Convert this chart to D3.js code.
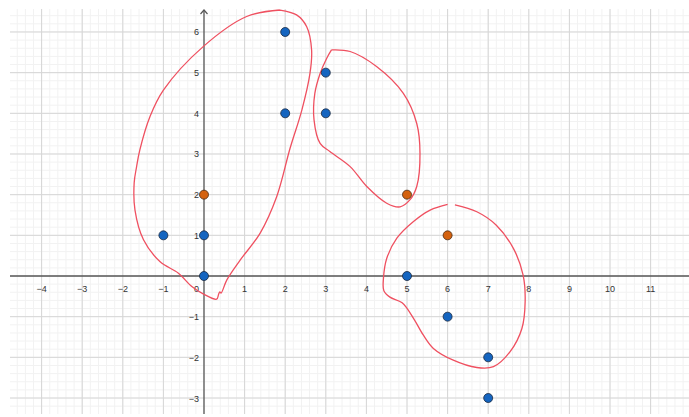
<!DOCTYPE html>
<html>
<head>
<meta charset="utf-8">
<script src="https://cdn.jsdelivr.net/npm/d3@7"></script>
<style>
  body { margin: 0; background: #fff; }
  svg { display: block; }
</style>
</head>
<body>
<svg width="689" height="417"></svg>
<script>
// points
const bluePoints = [[2, 6], [2, 4], [3, 5], [3, 4], [0, 1], [0, 0], [-1, 1], [5, 0], [6, -1], [7, -2], [7, -3]];
const orangePoints = [[0, 2], [5, 2], [6, 1]];

const xTicks = [-4, -3, -2, -1, 1, 2, 3, 4, 5, 6, 7, 8, 9, 10, 11];
const yTicks = [-3, -2, -1, 1, 2, 3, 4, 5, 6];

// hand drawn loops (traced, in graph units)
const loopLeft = [
  [1.87, 6.54], [1.05, 6.38], [-0.02, 5.64], [-1.0, 4.57], [-1.33, 3.92], [-1.58, 3.1],
  [-1.66, 2.69], [-1.72, 2.29], [-1.70, 1.62], [-1.49, 0.89], [-1.08, 0.35], [-0.63, 0.07],
  [-0.30, -0.26], [-0.02, -0.44], [0.31, -0.57], [0.36, -0.45], [0.39, -0.39], [0.42, -0.42],
  [0.56, -0.10], [0.89, 0.39], [1.38, 1.05], [1.79, 1.95], [2.12, 3.14], [2.41, 4.08],
  [2.61, 4.98], [2.65, 5.56], [2.53, 6.13], [2.28, 6.42], [1.87, 6.54]
];
const loopMiddle = [
  [3.14, 5.56], [3.60, 5.52], [4.25, 5.15], [4.91, 4.49], [5.24, 3.75], [5.32, 3.02],
  [5.24, 2.2], [5.07, 1.87], [4.83, 1.70], [4.50, 1.79], [4.01, 2.2], [3.60, 2.69],
  [3.10, 3.06], [2.86, 3.26], [2.71, 3.84], [2.73, 4.49], [2.86, 4.98], [3.02, 5.35], [3.14, 5.56]
];
const loopRight = [
  [6.18, 1.75], [6.72, 1.58], [7.20, 1.25], [7.62, 0.68], [7.86, 0.02], [7.91, -0.63],
  [7.83, -1.29], [7.54, -1.86], [7.13, -2.23], [6.72, -2.25], [6.14, -2.07], [5.65, -1.78],
  [5.40, -1.45], [5.16, -1.04], [4.88, -0.66], [4.58, -0.52], [4.43, -0.36], [4.42, -0.06],
  [4.50, 0.43], [4.75, 0.93], [5.16, 1.34], [5.57, 1.62], [6.0, 1.76]
];

const svg = d3.select("svg");
const unit = 40.6;
const x = d3.scaleLinear().domain([-5, 12]).range([204 - 5 * unit, 204 + 12 * unit]);
const y = d3.scaleLinear().domain([-3.5, 6.8]).range([276 + 3.5 * 40.67, 276 - 6.8 * 40.67]);

const area = { left: 10, top: 9, right: 689, bottom: 414 };

// grid
const grid = svg.append("g");
const minorX = d3.range(-5, 12.01, 0.2).filter(v => x(v) >= area.left);
const minorY = d3.range(-3.4, 6.81, 0.2).filter(v => y(v) >= area.top && y(v) <= area.bottom);
grid.selectAll(".mx").data(minorX).join("line")
  .attr("x1", d => x(d)).attr("x2", d => x(d))
  .attr("y1", area.top).attr("y2", area.bottom)
  .attr("stroke", "#f2f2f2").attr("stroke-width", 1);
grid.selectAll(".my").data(minorY).join("line")
  .attr("y1", d => y(d)).attr("y2", d => y(d))
  .attr("x1", area.left).attr("x2", area.right)
  .attr("stroke", "#f2f2f2").attr("stroke-width", 1);

const majorX = d3.range(-4, 12).filter(v => v !== 0);
const majorY = d3.range(-3, 7).filter(v => v !== 0);
grid.selectAll(".MX").data(majorX).join("line")
  .attr("x1", d => x(d)).attr("x2", d => x(d))
  .attr("y1", area.top).attr("y2", area.bottom)
  .attr("stroke", "#d6d6d6").attr("stroke-width", 1);
grid.selectAll(".MY").data(majorY).join("line")
  .attr("y1", d => y(d)).attr("y2", d => y(d))
  .attr("x1", area.left).attr("x2", area.right)
  .attr("stroke", "#d6d6d6").attr("stroke-width", 1);

// axes
svg.append("line")
  .attr("x1", area.left).attr("x2", area.right)
  .attr("y1", y(0)).attr("y2", y(0))
  .attr("stroke", "#555").attr("stroke-width", 1.3);
svg.append("line")
  .attr("x1", x(0)).attr("x2", x(0))
  .attr("y1", area.top + 1).attr("y2", area.bottom)
  .attr("stroke", "#555").attr("stroke-width", 1.3);
svg.append("path")
  .attr("d", `M${x(0) - 3.5},${area.top + 5} L${x(0)},${area.top + 1} L${x(0) + 3.5},${area.top + 5}`)
  .attr("fill", "none").attr("stroke", "#555").attr("stroke-width", 1.2);

const fmt = v => (v < 0 ? "\u2212" + Math.abs(v) : String(v));
svg.selectAll(".xl").data(xTicks).join("text")
  .attr("x", d => x(d)).attr("y", y(0) + 16)
  .attr("text-anchor", "middle")
  .style("font", "9px 'Liberation Sans', Arial, sans-serif").attr("fill", "#333")
  .text(fmt);
svg.selectAll(".yl").data(yTicks).join("text")
  .attr("x", x(0) - 5).attr("y", d => y(d) + 3.5)
  .attr("text-anchor", "end")
  .style("font", "9px 'Liberation Sans', Arial, sans-serif").attr("fill", "#333")
  .text(fmt);
svg.append("text")
  .attr("x", x(0) - 5).attr("y", y(0) + 16)
  .attr("text-anchor", "end")
  .style("font", "9px 'Liberation Sans', Arial, sans-serif").attr("fill", "#333")
  .text("0");

// loops
const line = d3.line().x(d => x(d[0])).y(d => y(d[1])).curve(d3.curveCatmullRom.alpha(0.5));
svg.selectAll(".loop").data([loopLeft, loopMiddle, loopRight]).join("path")
  .attr("d", line)
  .attr("fill", "none").attr("stroke", "#ef5060").attr("stroke-width", 1.3);

// points
svg.selectAll(".bp").data(bluePoints).join("circle")
  .attr("cx", d => x(d[0])).attr("cy", d => y(d[1])).attr("r", 4.5)
  .attr("fill", "#1565c0").attr("stroke", "#1a2a40").attr("stroke-width", 0.8);
svg.selectAll(".op").data(orangePoints).join("circle")
  .attr("cx", d => x(d[0])).attr("cy", d => y(d[1])).attr("r", 4.5)
  .attr("fill", "#d4620f").attr("stroke", "#4a2a10").attr("stroke-width", 0.8);
</script>
</body>
</html>
